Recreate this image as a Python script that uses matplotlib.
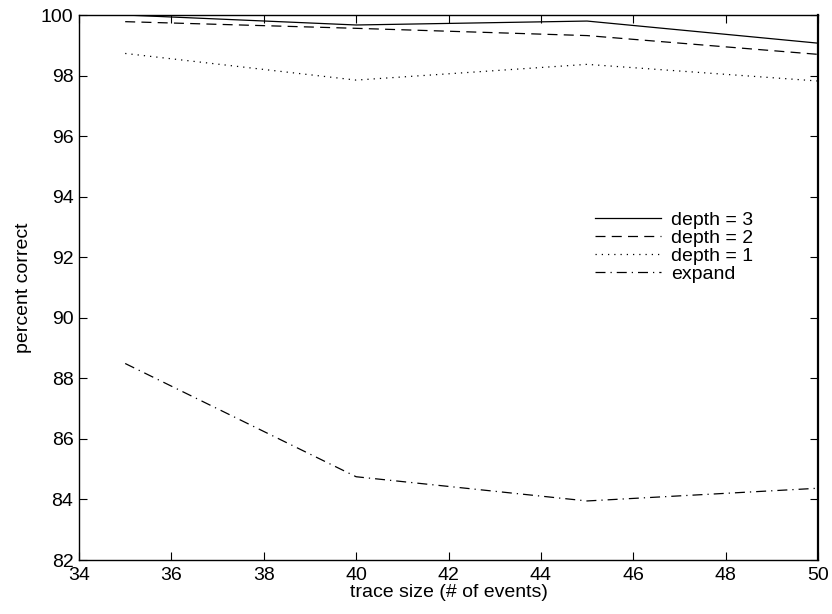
import matplotlib
matplotlib.use('Agg')
import matplotlib.pyplot as plt

plt.rcParams['font.family'] = ['Liberation Sans', 'DejaVu Sans']

# data
trace_size = [35, 40, 45, 50]
depth3 = [100.0, 99.67, 99.80, 99.07]
depth2 = [99.78, 99.56, 99.32, 98.70]
depth1 = [98.73, 97.85, 98.37, 97.82]
expand = [88.49, 84.75, 83.95, 84.37]

fig = plt.figure(figsize=(8.32, 6.14), dpi=100)
ax = fig.add_axes([79/832, 1 - 560/614, (818-79)/832, (560-15)/614])

ax.plot(trace_size, depth3, color='black', lw=0.9, ls='-', label='depth = 3')
ax.plot(trace_size, depth2, color='black', lw=0.9, ls=(0, (8, 5)), label='depth = 2')
ax.plot(trace_size, depth1, color='black', lw=0.9, ls=(0, (1, 4)), label='depth = 1')
ax.plot(trace_size, expand, color='black', lw=0.9, ls=(0, (8, 4, 1, 4)), label='expand')

ax.set_xlim(34, 50)
ax.set_ylim(82, 100)
ax.set_xticks(range(34, 51, 2))
ax.set_yticks(range(82, 101, 2))
ax.tick_params(direction='in', top=True, right=True, labelsize=14, length=6, width=0.8)
ax.tick_params(axis='x', pad=5)
ax.tick_params(axis='y', pad=4)
for s in ax.spines.values():
    s.set_linewidth(1.0)
ax.spines['right'].set_linewidth(1.6)

ax.set_xlabel('trace size (# of events)', fontsize=14, labelpad=0)
ax.set_ylabel('percent correct', fontsize=14, labelpad=6)

ax.legend(loc='upper left', bbox_to_anchor=(0.698, 0.64), frameon=False,
          fontsize=14, handlelength=3.4, handletextpad=0.5, labelspacing=0.02,
          borderpad=0, borderaxespad=0)

fig.savefig('out.png', dpi=100, facecolor='white')
